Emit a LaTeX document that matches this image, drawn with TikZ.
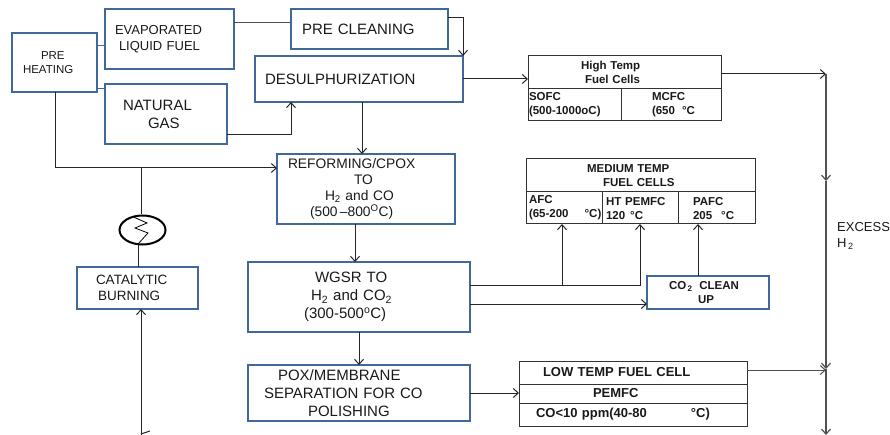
\documentclass[tikz,border=0pt]{standalone}
\usepackage{fontspec}
\setmainfont{Liberation Sans}
\usepackage{tikz}
\usetikzlibrary{shapes}
\usetikzlibrary{arrows.meta}
\definecolor{boxblue}{HTML}{41689A}
\definecolor{linegray}{HTML}{505050}
\newcommand{\lowered}[1]{\raisebox{-5pt}[0pt][0pt]{#1}}
\tikzset{
  box_size/.style 2 args = {minimum width=#1pt, minimum height=#2pt,
    text width=#1pt},
  base_node/.style = {rectangle, anchor=north west, align=left, inner xsep=0pt,
    inner ysep=0pt, outer sep=0pt, text=black!90},
  process_node/.style = {base_node, draw=boxblue, line width=2pt},% procede, bord bleu
  cell_node/.style = {base_node, draw=black!80, line width=1pt,
    font=\fontsize{11.5}{14}\selectfont\bfseries},% pile, case du tableau
  flow/.style = {draw=black!85, line width=1pt, >={Straight Barb[length=5pt,width=9pt]}},
  stub/.style = {draw=boxblue, line width=1pt}
}
\begin{document}
\begin{tikzpicture}[x=1pt, y=-1pt]
      \useasboundingbox (0,0) rectangle (890,435);
      % process boxes
      \node [process_node, box_size={85}{59}, font=\fontsize{11.5}{14}\selectfont] (pre_heating) at (12,33)
        {\hspace*{29pt}PRE\\\hspace*{11pt}HEATING};
      \node [process_node, box_size={129}{60}, font=\fontsize{13}{16}\selectfont] (evaporated) at (105,9)
        {\hspace*{10pt}EVAPORATED\\\hspace*{14pt}LIQUID FUEL};
      \node [process_node, box_size={122}{60}, font=\fontsize{15}{18}\selectfont] (natural_gas) at (105,84)
        {\hspace*{18pt}NATURAL\\\hspace*{43pt}GAS};
      \node [process_node, box_size={157}{40}, font=\fontsize{15}{18}\selectfont] (pre_cleaning) at (291,9)
        {\hspace*{11pt}PRE CLEANING};
      \node [process_node, box_size={208}{46}, font=\fontsize{15}{18}\selectfont] (desulph) at (255,56)
        {\hspace*{10pt}DESULPHURIZATION};
      \node [process_node, box_size={178}{70}, font=\fontsize{13.8}{16}\selectfont] (reforming) at (277,154)
        {\hspace*{11pt}REFORMING/CPOX\\\hspace*{77pt}TO\\\hspace*{48pt}H\textsubscript{2} and CO\\\hspace*{33pt}(500\,–800\textsuperscript{O}C)};
      \node [process_node, box_size={121}{42}, font=\fontsize{13.5}{16}\selectfont] (catalytic) at (77,267)
        {\hspace*{19pt}CATALYTIC\\\hspace*{21pt}BURNING};
      \node [process_node, box_size={222}{70}, font=\fontsize{15}{18}\selectfont] (wgsr) at (248,262)
        {\hspace*{67pt}WGSR TO\\\hspace*{63pt}H\textsubscript{2} and CO\textsubscript{2}\\\hspace*{56pt}(300-500\textsuperscript{o}C)};
      \node [process_node, box_size={222}{56}, font=\fontsize{15}{18}\selectfont] (pox) at (248,365)
        {\hspace*{30pt}POX/MEMBRANE\\\hspace*{16pt}SEPARATION FOR CO\\\hspace*{60pt}POLISHING};
      \node [process_node, box_size={122}{33}, font=\fontsize{11.5}{14}\selectfont\bfseries] (co2_cleanup) at (647,276)
        {\hspace*{22pt}CO\textsubscript{\,2}\hspace{3pt} CLEAN\\\hspace*{51pt}UP};
      % high temp cells
      \node [cell_node, box_size={193}{33}] (high_temp) at (528,56)
        {\hspace*{53pt}High Temp\\\hspace*{57pt}Fuel Cells};
      \node [cell_node, box_size={93}{32}] (sofc) at (528,89)
        {\hspace*{1pt}SOFC\\\hspace*{1pt}(500-1000oC)};
      \node [cell_node, box_size={100}{32}] (mcfc) at (621,89)
        {\hspace*{31pt}MCFC\\\hspace*{31pt}(650\hspace{7pt}°C};
      % medium temp cells
      \node [cell_node, box_size={229}{33}] (medium_temp) at (526,159)
        {\hspace*{61pt}MEDIUM TEMP\\\hspace*{77pt}FUEL CELLS};
      \node [cell_node, box_size={76}{32}] (afc) at (526,192)
        {\hspace*{3pt}AFC\\\hspace*{3pt}(65-200\hspace{16pt}°C)};
      \node [cell_node, box_size={76}{32}] (ht_pemfc) at (602,192)
        {\hspace*{4pt}\lowered{HT PEMFC}\\\hspace*{4pt}\lowered{120\hspace{5pt}°C}};
      \node [cell_node, box_size={77}{32}] (pafc) at (678,192)
        {\hspace*{15pt}\lowered{PAFC}\\\hspace*{15pt}\lowered{205\hspace{9pt}°C}};
      % low temp cells
      \node [cell_node, box_size={228}{23}, font=\fontsize{13}{15}\selectfont\bfseries] (low_temp) at (519,361)
        {\hspace*{24pt}LOW TEMP FUEL CELL};
      \node [cell_node, box_size={228}{19}, font=\fontsize{13}{15}\selectfont\bfseries] (pemfc) at (519,384)
        {\hspace*{74pt}PEMFC};
      \node [cell_node, box_size={228}{23}, font=\fontsize{13}{15}\selectfont\bfseries] (co_limit) at (519,403)
        {\hspace*{17pt}CO<10 ppm(40-80\hspace{44pt}°C)};
      % burner and excess hydrogen
      \node [ellipse, draw=black, line width=2pt, minimum width=46pt, minimum height=29pt, inner sep=0pt] (heater) at (142.5,230) {};
      \node [anchor=north west, align=left, inner sep=0pt, font=\fontsize{13}{16}\selectfont, text=black!90] (excess) at (837,222)
        {EXCESS\\H\textsubscript{\,2}};
      \coordinate (excess_top) at (826,74);
      \coordinate (excess_end) at (826,435);
      \coordinate (burner_feed) at (141,435);
      \draw [black, line width=0.8pt] (133.5,217) -- (147,223) -- (135,228) -- (148,233) -- (138,244);
      % connectors
      \draw [stub] (pre_heating.east |- 0,46) -- (evaporated.west |- 0,46);
      \draw [stub] (pre_heating.east |- 0,89) -- (natural_gas.west |- 0,89);
      \draw [flow, draw=linegray] (evaporated.east |- 0,23) -- (pre_cleaning.west |- 0,23);
      \draw [flow, ->] (pre_cleaning.east |- 0,18) -| (desulph.north east);
      \draw [flow, ->] (desulph.east |- 0,79) -- (high_temp.west |- 0,79);
      \draw [flow, ->] (natural_gas.east |- 0,135) -| (desulph.south -| 291,0);
      \draw [flow, ->] (desulph.south -| 362,0) -- (reforming.north -| 362,0);
      \draw [flow, ->] (pre_heating.south -| 55,0) |- (reforming.west |- 0,168);
      \draw [flow] (141,168) -- (heater.north -| 141,0);
      \draw [flow] (heater.south -| 138,0) -- (catalytic.north -| 138,0);
      \draw [flow, ->] (burner_feed) -- (catalytic.south -| burner_feed);
      \draw [flow] (burner_feed |- 0,434) -- ++(9,-3);
      \draw [flow, ->] (reforming.south -| 355,0) -- (wgsr.north -| 355,0);
      \draw [flow, ->] (wgsr.south -| 359,0) -- (pox.north -| 359,0);
      \draw [flow, ->] (wgsr.east |- 0,285) -| (ht_pemfc.south -| 640,0);
      \draw [flow, ->] (562,285) -- (afc.south -| 562,0);
      \draw [flow, ->] (wgsr.east |- 0,304) -- (co2_cleanup.west |- 0,304);
      \draw [flow, ->] (co2_cleanup.north -| 698,0) -- (pafc.south -| 698,0);
      \draw [flow, ->] (pox.east |- 0,393) -- (pemfc.west |- 0,393);
      \draw [flow, ->] (high_temp.east |- excess_top) -- (excess_top);
      \draw [flow, draw=linegray, line width=1.2pt, ->] (excess_top) -- (826,181);
      \draw [flow, draw=linegray, line width=1.2pt, ->] (826,181) -- (826,369);
      \draw [flow, draw=linegray, line width=1.2pt, ->] (826,369) -- (excess_end);
      \draw [flow, draw=linegray, ->] (low_temp.east |- 0,370) -- (826,370);
    \end{tikzpicture}
\end{document}
